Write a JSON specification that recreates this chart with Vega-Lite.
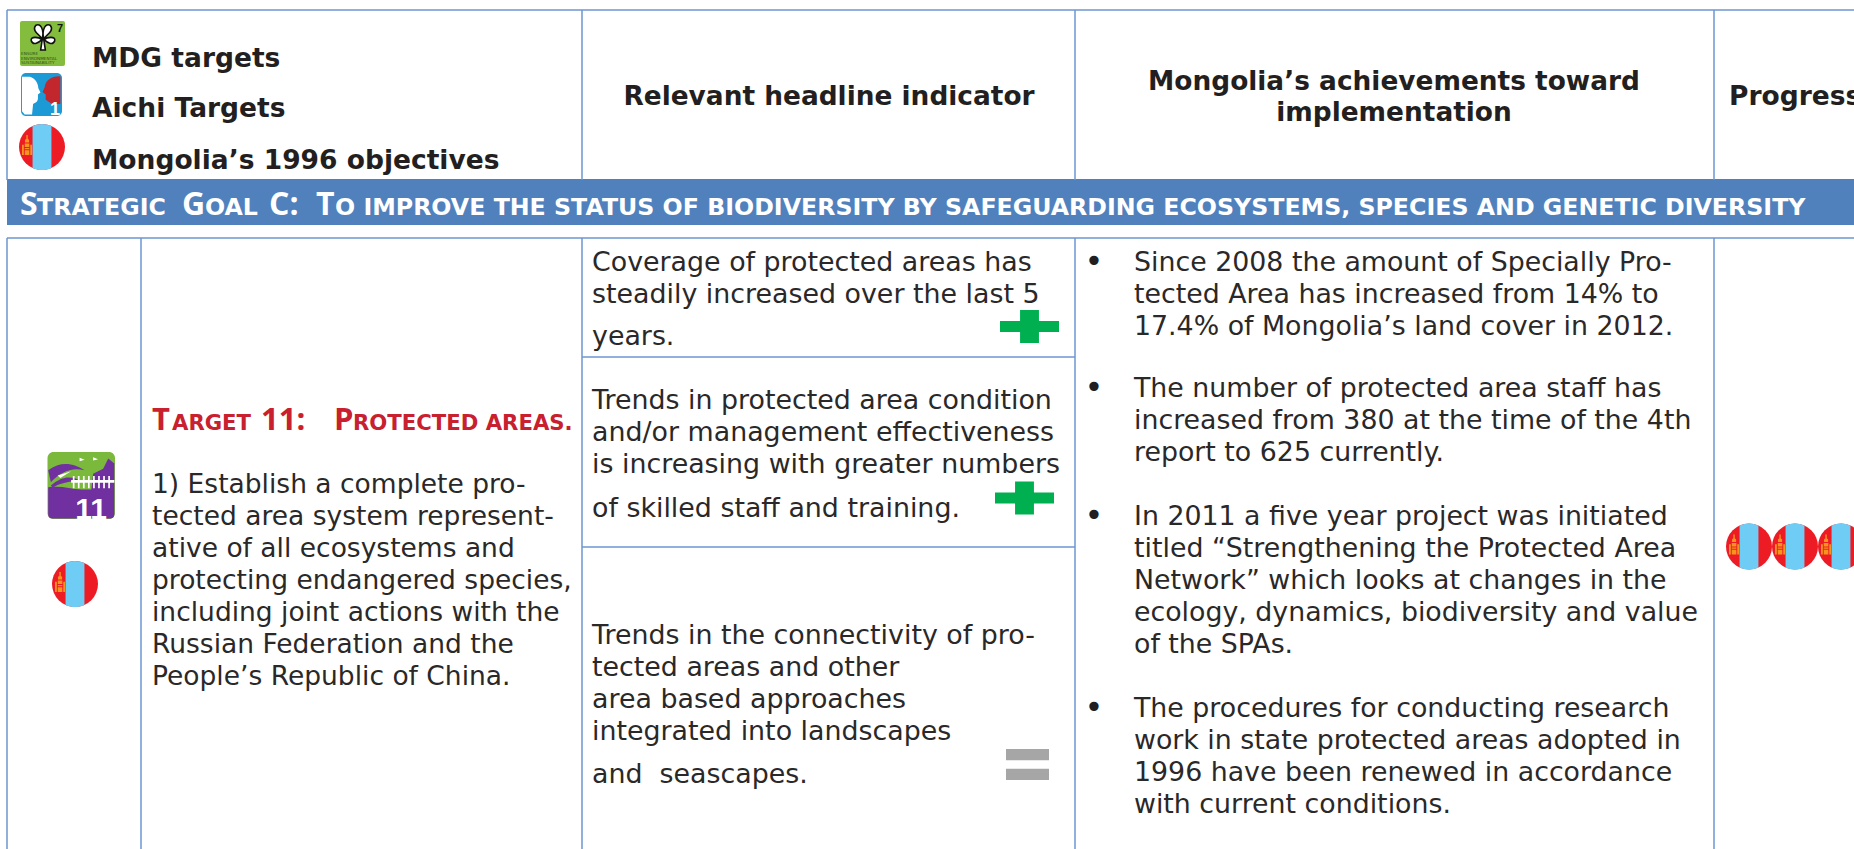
{
"$schema":"https://vega.github.io/schema/vega-lite/v6.json",
"autosize":{"type":"none"},
"width":1854,"height":849,"padding":0,"background":"white",
"config":{"view":{"stroke":null}},
"datasets":{
"rules":[
{"x":7,"x2":1854,"y":10,"y2":10},
{"x":7,"x2":1854,"y":238,"y2":238},
{"x":582,"x2":1075,"y":357,"y2":357},
{"x":582,"x2":1075,"y":547,"y2":547},
{"x":7,"x2":7,"y":10,"y2":180},
{"x":582,"x2":582,"y":10,"y2":180},
{"x":1075,"x2":1075,"y":10,"y2":180},
{"x":1714,"x2":1714,"y":10,"y2":180},
{"x":7,"x2":7,"y":238,"y2":849},
{"x":141,"x2":141,"y":238,"y2":849},
{"x":582,"x2":582,"y":238,"y2":849},
{"x":1075,"x2":1075,"y":238,"y2":849},
{"x":1714,"x2":1714,"y":238,"y2":849}
],
"band":[{"x":7,"x2":1854,"y":179,"y2":225}],
"headLeft":[
{"x":92,"y":67,"t":"MDG targets"},
{"x":92,"y":117,"t":"Aichi Targets"},
{"x":92,"y":169,"t":"Mongolia’s 1996 objectives"},
{"x":1729,"y":105,"t":"Progress"}
],
"headCenter":[
{"x":829,"y":105,"t":"Relevant headline indicator"},
{"x":1394,"y":90,"t":"Mongolia’s achievements toward"},
{"x":1394,"y":121,"t":"implementation"}
],
"bandBig":[
{"x":20,"y":215,"t":"S"},{"x":182,"y":215,"t":"G"},{"x":269,"y":215,"t":"C:"},{"x":316,"y":215,"t":"T"}
],
"bandSmall":[
{"x":37,"y":215,"t":"TRATEGIC"},{"x":205,"y":215,"t":"OAL"},
{"x":335,"y":215,"t":"O IMPROVE THE STATUS OF BIODIVERSITY BY SAFEGUARDING ECOSYSTEMS, SPECIES AND GENETIC DIVERSITY"}
],
"redBig":[
{"x":152,"y":430,"t":"T"},{"x":261,"y":430,"t":"11:"},{"x":334,"y":430,"t":"P"}
],
"redSmall":[
{"x":172,"y":430,"t":"ARGET"},{"x":353,"y":430,"t":"ROTECTED AREAS."}
],
"col2":[
{"x":152,"y":493,"t":"1) Establish a complete pro-"},
{"x":152,"y":525,"t":"tected area system represent-"},
{"x":152,"y":557,"t":"ative of all ecosystems and"},
{"x":152,"y":589,"t":"protecting endangered species,"},
{"x":152,"y":621,"t":"including joint actions with the"},
{"x":152,"y":653,"t":"Russian Federation and the"},
{"x":152,"y":685,"t":"People’s Republic of China."}
],
"col3":[
{"x":592,"y":271,"t":"Coverage of protected areas has"},
{"x":592,"y":303,"t":"steadily increased over the last 5"},
{"x":592,"y":345,"t":"years."},
{"x":592,"y":409,"t":"Trends in protected area condition"},
{"x":592,"y":441,"t":"and/or management effectiveness"},
{"x":592,"y":473,"t":"is increasing with greater numbers"},
{"x":592,"y":517,"t":"of skilled staff and training."},
{"x":592,"y":644,"t":"Trends in the connectivity of pro-"},
{"x":592,"y":676,"t":"tected areas and other"},
{"x":592,"y":708,"t":"area based approaches"},
{"x":592,"y":740,"t":"integrated into landscapes"},
{"x":592,"y":783,"t":"and\u00a0 seascapes."}
],
"col4":[
{"x":1134,"y":271,"t":"Since 2008 the amount of Specially Pro-"},
{"x":1134,"y":303,"t":"tected Area has increased from 14% to"},
{"x":1134,"y":335,"t":"17.4% of Mongolia’s land cover in 2012."},
{"x":1134,"y":397,"t":"The number of protected area staff has"},
{"x":1134,"y":429,"t":"increased from 380 at the time of the 4th"},
{"x":1134,"y":461,"t":"report to 625 currently."},
{"x":1134,"y":525,"t":"In 2011 a five year project was initiated"},
{"x":1134,"y":557,"t":"titled “Strengthening the Protected Area"},
{"x":1134,"y":589,"t":"Network” which looks at changes in the"},
{"x":1134,"y":621,"t":"ecology, dynamics, biodiversity and value"},
{"x":1134,"y":653,"t":"of the SPAs."},
{"x":1134,"y":717,"t":"The procedures for conducting research"},
{"x":1134,"y":749,"t":"work in state protected areas adopted in"},
{"x":1134,"y":781,"t":"1996 have been renewed in accordance"},
{"x":1134,"y":813,"t":"with current conditions."}
],
"bullets":[{"x":1094,"y":272,"t":"•"},{"x":1094,"y":398,"t":"•"},{"x":1094,"y":526,"t":"•"},{"x":1094,"y":718,"t":"•"}],
"flags":[{"x":42,"y":147},{"x":75,"y":584},{"x":1749,"y":546.5},{"x":1795,"y":546.5},{"x":1841,"y":546.5}],
"plus":[{"x":1029.5,"y":326.5},{"x":1024.5,"y":498}],
"equal":[{"x":1027.5,"y":764.5}],
"mdgBox":[{"x":20,"x2":65,"y":21,"y2":66}],
"mdgFlower":[{"x":43,"y":37}],
"mdgNum":[{"x":57,"y":32,"t":"7"}],
"mdgTiny":[{"x":21,"y":55,"t":"ENSURE"},{"x":21,"y":59.5,"t":"ENVIRONMENTAL"},{"x":21,"y":64,"t":"SUSTAINABILITY"}],
"aichiBox":[{"x":21,"x2":62,"y":73,"y2":116}],
"aichiIcon":[{"x":41.5,"y":94.5}],
"aichiNum":[{"x":55,"y":115,"t":"1"}],
"tBox":[{"x":47.5,"x2":115,"y":452,"y2":519}],
"tIcon":[{"x":81.25,"y":485.5}],
"tNum":[{"x":91,"y":519,"t":"11"}]
},
"encoding":{
"x":{"field":"x","type":"quantitative","scale":{"domain":[0,1854],"nice":false,"zero":false},"axis":null},
"y":{"field":"y","type":"quantitative","scale":{"domain":[0,849],"nice":false,"zero":false,"reverse":true},"axis":null}
},
"layer":[
{"data":{"name":"band"},"mark":{"type":"rect","color":"#5081bd"},"encoding":{"x2":{"field":"x2"},"y2":{"field":"y2"}}},
{"data":{"name":"rules"},"mark":{"type":"rule","color":"#6e96d0","strokeWidth":1.5},"encoding":{"x2":{"field":"x2"},"y2":{"field":"y2"}}},
{"data":{"name":"headLeft"},"mark":{"type":"text","align":"left","baseline":"alphabetic","font":"DejaVu Sans","fontWeight":"bold","fontSize":26.5,"color":"#231f20"},"encoding":{"text":{"field":"t"}}},
{"data":{"name":"headCenter"},"mark":{"type":"text","align":"center","baseline":"alphabetic","font":"DejaVu Sans","fontWeight":"bold","fontSize":26.4,"color":"#231f20"},"encoding":{"text":{"field":"t"}}},
{"data":{"name":"bandBig"},"mark":{"type":"text","align":"left","baseline":"alphabetic","font":"Open Sans","fontWeight":"bold","fontSize":32,"color":"#ffffff"},"encoding":{"text":{"field":"t"}}},
{"data":{"name":"bandSmall"},"mark":{"type":"text","align":"left","baseline":"alphabetic","font":"DejaVu Sans","fontWeight":"bold","fontSize":23.7,"color":"#ffffff"},"encoding":{"text":{"field":"t"}}},
{"data":{"name":"redBig"},"mark":{"type":"text","align":"left","baseline":"alphabetic","font":"Open Sans","fontWeight":"bold","fontSize":31,"color":"#c8202f"},"encoding":{"text":{"field":"t"}}},
{"data":{"name":"redSmall"},"mark":{"type":"text","align":"left","baseline":"alphabetic","font":"DejaVu Sans","fontWeight":"bold","fontSize":21.2,"color":"#c8202f"},"encoding":{"text":{"field":"t"}}},
{"data":{"name":"col2"},"mark":{"type":"text","align":"left","baseline":"alphabetic","font":"DejaVu Sans","fontSize":26.5,"color":"#2a2828"},"encoding":{"text":{"field":"t"}}},
{"data":{"name":"col3"},"mark":{"type":"text","align":"left","baseline":"alphabetic","font":"DejaVu Sans","fontSize":26.85,"color":"#2a2828"},"encoding":{"text":{"field":"t"}}},
{"data":{"name":"col4"},"mark":{"type":"text","align":"left","baseline":"alphabetic","font":"DejaVu Sans","fontSize":26.8,"color":"#2a2828"},"encoding":{"text":{"field":"t"}}},
{"data":{"name":"bullets"},"mark":{"type":"text","align":"center","baseline":"alphabetic","font":"DejaVu Sans","fontSize":32,"color":"#231f20"},"encoding":{"text":{"field":"t"}}},
{"data":{"name":"flags"},"mark":{"type":"point","filled":true,"opacity":1,"size":2116,"shape":"circle","color":"#ed1c24"}},
{"data":{"name":"flags"},"mark":{"type":"point","filled":true,"opacity":1,"size":2116,"color":"#6fcdf5","shape":"M-0.41,-0.912 A1,1 0 0 1 0.41,-0.912 L0.41,0.912 A1,1 0 0 1 -0.41,0.912 Z"}},
{"data":{"name":"flags"},"mark":{"type":"point","filled":true,"opacity":1,"size":2116,"color":"#f7941d","shape":"M-0.68,-0.52 L-0.62,-0.52 L-0.62,-0.36 L-0.56,-0.3 L-0.56,-0.2 L-0.74,-0.2 L-0.74,-0.3 L-0.68,-0.36 Z M-0.75,-0.15 L-0.55,-0.15 L-0.55,0 L-0.75,0 Z M-0.75,0.04 L-0.55,0.04 L-0.55,0.1 L-0.75,0.1 Z M-0.75,0.14 L-0.55,0.14 L-0.55,0.35 L-0.75,0.35 Z M-0.87,-0.1 L-0.79,-0.1 L-0.79,0.35 L-0.87,0.35 Z M-0.51,-0.1 L-0.43,-0.1 L-0.43,0.35 L-0.51,0.35 Z"}},
{"data":{"name":"plus"},"mark":{"type":"point","filled":true,"opacity":1,"size":3481,"color":"#00b050","shape":"M-0.32,-0.56 L0.32,-0.56 L0.32,-0.19 L1,-0.19 L1,0.19 L0.32,0.19 L0.32,0.56 L-0.32,0.56 L-0.32,0.19 L-1,0.19 L-1,-0.19 L-0.32,-0.19 Z"}},
{"data":{"name":"equal"},"mark":{"type":"point","filled":true,"opacity":1,"size":1849,"color":"#a6a6a6","shape":"M-1,-0.72 L1,-0.72 L1,-0.2 L-1,-0.2 Z M-1,0.2 L1,0.2 L1,0.72 L-1,0.72 Z"}},
{"data":{"name":"mdgBox"},"mark":{"type":"rect","color":"#84bd3e","cornerRadius":2},"encoding":{"x2":{"field":"x2"},"y2":{"field":"y2"}}},
{"data":{"name":"mdgFlower"},"mark":{"type":"point","filled":true,"opacity":1,"size":676,"color":"#ffffff","stroke":"#111111","strokeWidth":1.6,"shape":"M-0.05,0.15 C-0.3,-0.2 -0.9,-0.5 -0.55,-0.9 C-0.2,-1.1 0.1,-0.6 -0.05,0.15 Z M0.05,0.15 C-0.1,-0.6 0.2,-1.1 0.55,-0.9 C0.9,-0.5 0.3,-0.2 0.05,0.15 Z M-0.08,0.2 C-0.3,0 -1,-0.1 -0.9,0.3 C-0.75,0.7 -0.3,0.4 -0.08,0.2 Z M0.08,0.2 C0.3,0.4 0.75,0.7 0.9,0.3 C1,-0.1 0.3,0 0.08,0.2 Z M-0.06,0.2 L0.06,0.2 L0.18,1 L-0.18,1 Z"}},
{"data":{"name":"mdgNum"},"mark":{"type":"text","align":"left","baseline":"alphabetic","font":"Liberation Sans","fontWeight":"bold","fontSize":11,"color":"#111111"},"encoding":{"text":{"field":"t"}}},
{"data":{"name":"mdgTiny"},"mark":{"type":"text","align":"left","baseline":"alphabetic","font":"DejaVu Sans","fontSize":4.2,"color":"#2f4a14"},"encoding":{"text":{"field":"t"}}},
{"data":{"name":"aichiBox"},"mark":{"type":"rect","color":"#1b9ad6","cornerRadius":5},"encoding":{"x2":{"field":"x2"},"y2":{"field":"y2"}}},
{"data":{"name":"aichiIcon"},"mark":{"type":"point","filled":true,"opacity":1,"size":1764,"color":"#ffffff","shape":"M-0.93,-0.85 L-0.55,-0.85 C-0.3,-0.8 -0.15,-0.5 -0.15,-0.3 L-0.05,-0.1 L-0.17,0 L-0.17,0.2 C-0.2,0.4 -0.35,0.4 -0.4,0.45 L-0.45,0.95 L-0.8,0.95 L-0.93,0.8 Z"}},
{"data":{"name":"aichiIcon"},"mark":{"type":"point","filled":true,"opacity":1,"size":1764,"color":"#c1272d","shape":"M0.9,-0.87 C0.5,-0.9 0.2,-0.7 0.15,-0.35 L0.05,-0.12 L0.2,0 L0.2,0.25 L0.5,0.45 L0.9,0.45 Z"}},
{"data":{"name":"aichiNum"},"mark":{"type":"text","align":"center","baseline":"alphabetic","font":"Liberation Sans","fontWeight":"bold","fontSize":18,"color":"#ffffff"},"encoding":{"text":{"field":"t"}}},
{"data":{"name":"tBox"},"mark":{"type":"rect","color":"#7ab93c","cornerRadius":6},"encoding":{"x2":{"field":"x2"},"y2":{"field":"y2"}}},
{"data":{"name":"tIcon"},"mark":{"type":"point","filled":true,"opacity":1,"size":4556,"color":"#7030a0","shape":"M-0.98,0.05 C-0.6,0 -0.3,0.1 0,0.12 L0.98,0.12 L0.98,0.85 Q0.98,0.98 0.85,0.98 L-0.85,0.98 Q-0.98,0.98 -0.98,0.85 Z M0.3,0.12 L0.35,-0.35 L0.65,-0.5 L0.8,-0.8 L0.98,-0.65 L0.98,0.12 Z M-0.98,-0.45 C-0.6,-0.75 -0.2,-0.65 0.1,-0.45 C-0.3,-0.55 -0.6,-0.4 -0.9,-0.1 Z M-0.9,0 C-0.5,-0.35 -0.2,-0.25 0.05,-0.1 C-0.3,-0.18 -0.6,-0.05 -0.85,0.05 Z"}},
{"data":{"name":"tIcon"},"mark":{"type":"point","filled":true,"opacity":1,"size":4556,"color":"#ffffff","shape":"M-0.3,-0.16 L0.98,-0.16 L0.98,-0.08 L-0.3,-0.08 Z M-0.25,-0.28 L-0.2,-0.28 L-0.2,0.08 L-0.25,0.08 Z M-0.1,-0.28 L-0.05,-0.28 L-0.05,0.08 L-0.1,0.08 Z M0.05,-0.28 L0.1,-0.28 L0.1,0.08 L0.05,0.08 Z M0.2,-0.28 L0.25,-0.28 L0.25,0.08 L0.2,0.08 Z M0.35,-0.28 L0.4,-0.28 L0.4,0.08 L0.35,0.08 Z M0.5,-0.28 L0.55,-0.28 L0.55,0.08 L0.5,0.08 Z M0.65,-0.28 L0.7,-0.28 L0.7,0.08 L0.65,0.08 Z M0.8,-0.28 L0.85,-0.28 L0.85,0.08 L0.8,0.08 Z M-0.05,-0.82 L0.1,-0.76 L-0.05,-0.72 Z M0.35,-0.84 L0.5,-0.78 L0.35,-0.74 Z M-0.7,-0.3 L-0.3,-0.42 L-0.62,-0.22 Z"}},
{"data":{"name":"tNum"},"mark":{"type":"text","align":"center","baseline":"alphabetic","font":"Liberation Sans","fontWeight":"bold","fontSize":30,"color":"#ffffff"},"encoding":{"text":{"field":"t"}}}
]
}
